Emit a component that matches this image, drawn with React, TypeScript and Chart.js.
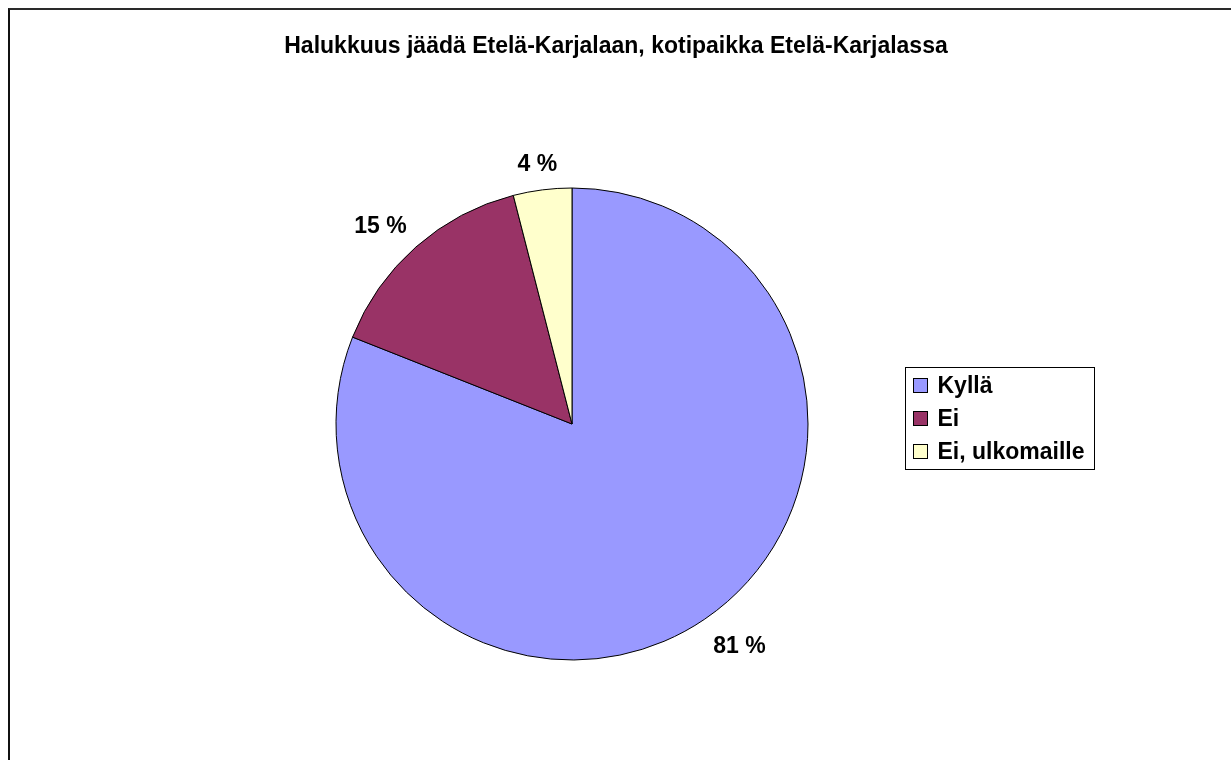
import React, { useEffect, useRef } from "react";
import { Chart, registerables } from "chart.js";

Chart.register(...registerables);

const TITLE = "Halukkuus jäädä Etelä-Karjalaan, kotipaikka Etelä-Karjalassa";
const categories = ["Kyllä", "Ei", "Ei, ulkomaille"];
const values = [81, 15, 4];
const colors = ["#9999FF", "#993366", "#FFFFCC"];

const FONT = "'Liberation Sans', Arial, sans-serif";

const clamp = (v: number) => Math.max(-1, Math.min(1, v));

const customPlugin = {
  id: "excelLike",
  afterDraw(chart: any) {
    const ctx = chart.ctx as CanvasRenderingContext2D;
    const w = chart.width;
    ctx.save();
    // Title
    ctx.fillStyle = "#000";
    ctx.font = `bold 23px ${FONT}`;
    ctx.textAlign = "center";
    ctx.textBaseline = "middle";
    ctx.fillText(TITLE, w / 2, 37);

    // Data labels
    const meta = chart.getDatasetMeta(0);
    const total = values.reduce((a, b) => a + b, 0);
    ctx.font = `bold 23px ${FONT}`;
    meta.data.forEach((arc: any, i: number) => {
      const mid = (arc.startAngle + arc.endAngle) / 2;
      const dx = Math.cos(mid);
      const dy = Math.sin(mid);
      const text = `${Math.round((values[i] / total) * 100)} %`;
      const tw = ctx.measureText(text).width;
      const hw = tw / 2;
      const hh = 8;
      const d = arc.outerRadius + 17;
      const px = arc.x + dx * d;
      const py = arc.y + dy * d;
      const lx = px + hw * clamp(dx * 2) + (dx < 0 ? 2 : -1);
      const ly = py + hh * clamp(dy * 2) + (dy > 0 ? 5 : 0);
      ctx.fillText(text, lx, ly);
    });

    // Legend
    ctx.font = `bold 23px ${FONT}`;
    const rowH = 33;
    const sq = 14;
    let maxW = 0;
    categories.forEach((c) => {
      maxW = Math.max(maxW, ctx.measureText(c).width);
    });
    const boxLeft = 895.5;
    const boxW = 8 + sq + 10 + maxW + 10;
    const boxH = rowH * categories.length + 3;
    const boxTop = 357.5;
    ctx.strokeStyle = "#000";
    ctx.lineWidth = 1;
    ctx.strokeRect(boxLeft, boxTop, Math.round(boxW), boxH);
    ctx.textAlign = "left";
    categories.forEach((c, i) => {
      const cy = boxTop + 18 + i * rowH;
      ctx.fillStyle = colors[i];
      ctx.fillRect(boxLeft + 8, cy - sq / 2, sq, sq);
      ctx.strokeStyle = "#000";
      ctx.strokeRect(boxLeft + 8, cy - sq / 2, sq, sq);
      ctx.fillStyle = "#000";
      ctx.fillText(c, boxLeft + 8 + sq + 10, cy + 1);
    });
    ctx.restore();
  },
};

export default function App() {
  const ref = useRef<HTMLCanvasElement | null>(null);
  useEffect(() => {
    if (!ref.current) return;
    const chart = new Chart(ref.current, {
      type: "pie",
      data: {
        labels: categories,
        datasets: [
          {
            data: values,
            backgroundColor: colors,
            borderColor: "#000",
            borderWidth: 1,
          },
        ],
      },
      options: {
        animation: false,
        responsive: false,
        radius: 236,
        layout: { padding: { left: 326, right: 414, top: 178, bottom: 100 } },
        plugins: {
          legend: { display: false },
          title: { display: false },
          tooltip: { enabled: false },
        },
      } as any,
      plugins: [customPlugin],
    });
    return () => chart.destroy();
  }, []);
  return (
    <div
      style={{
        position: "fixed",
        left: 8,
        top: 8,
        width: 1221,
        height: 760,
        borderTop: "2px solid #2a2a2a",
        borderLeft: "2px solid #111",
        overflow: "hidden",
        background: "#fff",
      }}
    >
      <canvas ref={ref} width={1212} height={750} style={{ display: "block" }} />
    </div>
  );
}
